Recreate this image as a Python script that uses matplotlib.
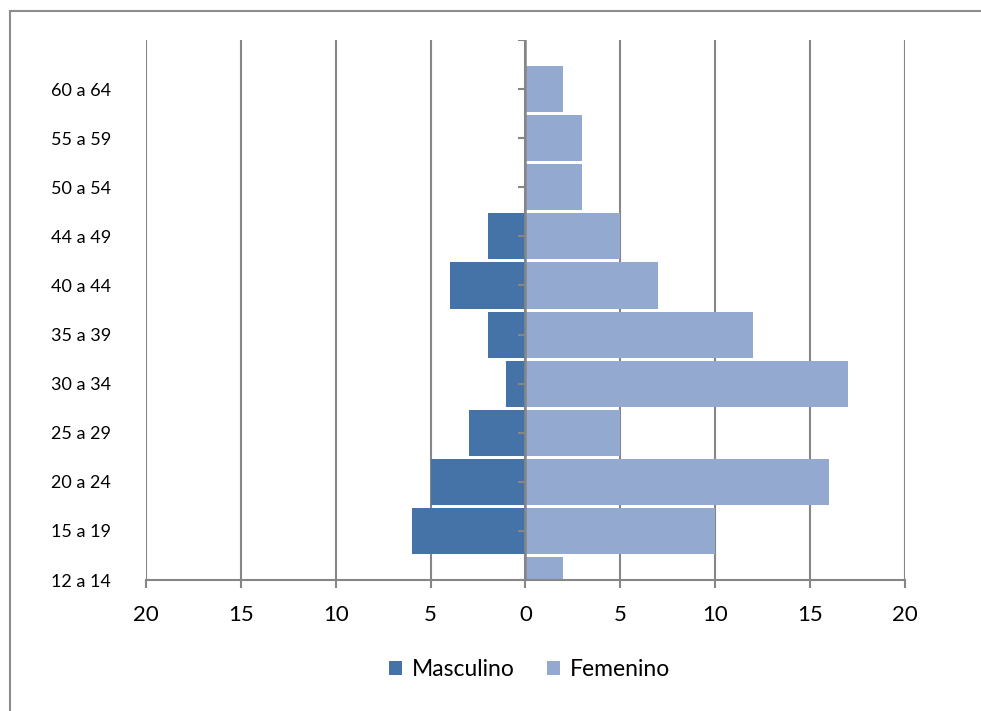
import matplotlib
matplotlib.use('Agg')
import matplotlib.pyplot as plt
from matplotlib.lines import Line2D

# age groups, bottom to top
groups = ['12 a 14', '15 a 19', '20 a 24', '25 a 29', '30 a 34', '35 a 39',
          '40 a 44', '44 a 49', '50 a 54', '55 a 59', '60 a 64']
masculino = [0, 6, 5, 3, 1, 2, 4, 2, 0, 0, 0]
femenino = [2, 10, 16, 5, 17, 12, 7, 5, 3, 3, 2]
x_ticks = [-20, -15, -10, -5, 0, 5, 10, 15, 20]

GRAY = '#868686'
DARK = '#4572A7'
LIGHT = '#94A9D0'

plt.rcParams['font.family'] = ['Lato', 'DejaVu Sans']


def main():
    fig = plt.figure(figsize=(9.81, 7.11), dpi=100)
    ax = fig.add_axes([0.1488, 0.1842, 0.7737, 0.7595])

    pos = list(range(len(groups)))
    ax.barh(pos, [-m for m in masculino], height=0.94, color=DARK,
            label='Masculino', zorder=2)
    ax.barh(pos, femenino, height=0.94, color=LIGHT,
            label='Femenino', zorder=2)

    ax.set_xlim(-20, 20)
    ax.set_ylim(0, 11)

    # x axis: absolute values, gridlines continue below the axis as ticks
    ax.set_xticks(x_ticks)
    ax.set_xticklabels([str(abs(v)) for v in x_ticks])
    ax.tick_params(axis='x', direction='out', length=6, width=1.5,
                   color=GRAY, labelsize=16, pad=12)
    ax.grid(axis='x', color=GRAY, linewidth=1.5, zorder=0)
    ax.set_axisbelow(True)

    # category labels on the left, no tick marks there
    ax.set_yticks(pos)
    ax.set_yticklabels(groups)
    ax.tick_params(axis='y', length=0, labelsize=13, pad=25)

    for side in ['top', 'right', 'left']:
        ax.spines[side].set_visible(False)
    ax.spines['bottom'].set_color(GRAY)
    ax.spines['bottom'].set_linewidth(1.5)

    # centre axis with short ticks pointing left
    ax.axvline(0, color=GRAY, linewidth=1.8, zorder=5)
    for y in range(12):
        ax.plot([-0.4, 0], [y, y], color=GRAY, linewidth=1.5, zorder=5,
                solid_capstyle='butt')

    fig.legend(loc='center', bbox_to_anchor=(0.54, 0.058), ncol=2,
               frameon=False, fontsize=16.5, handlelength=0.55,
               handleheight=0.55, handletextpad=0.45, columnspacing=1.4)

    # outer chart frame, only left and top edges fall inside the image
    left = 9.5 / 981
    top = 1 - 10.5 / 711
    fig.lines.append(Line2D([left, left], [0, top], transform=fig.transFigure,
                            color='#8C8C8C', linewidth=1.5))
    fig.lines.append(Line2D([left, 1], [top, top], transform=fig.transFigure,
                            color='#8C8C8C', linewidth=1.5))

    fig.savefig('out.png', dpi=100)


if __name__ == '__main__':
    main()
